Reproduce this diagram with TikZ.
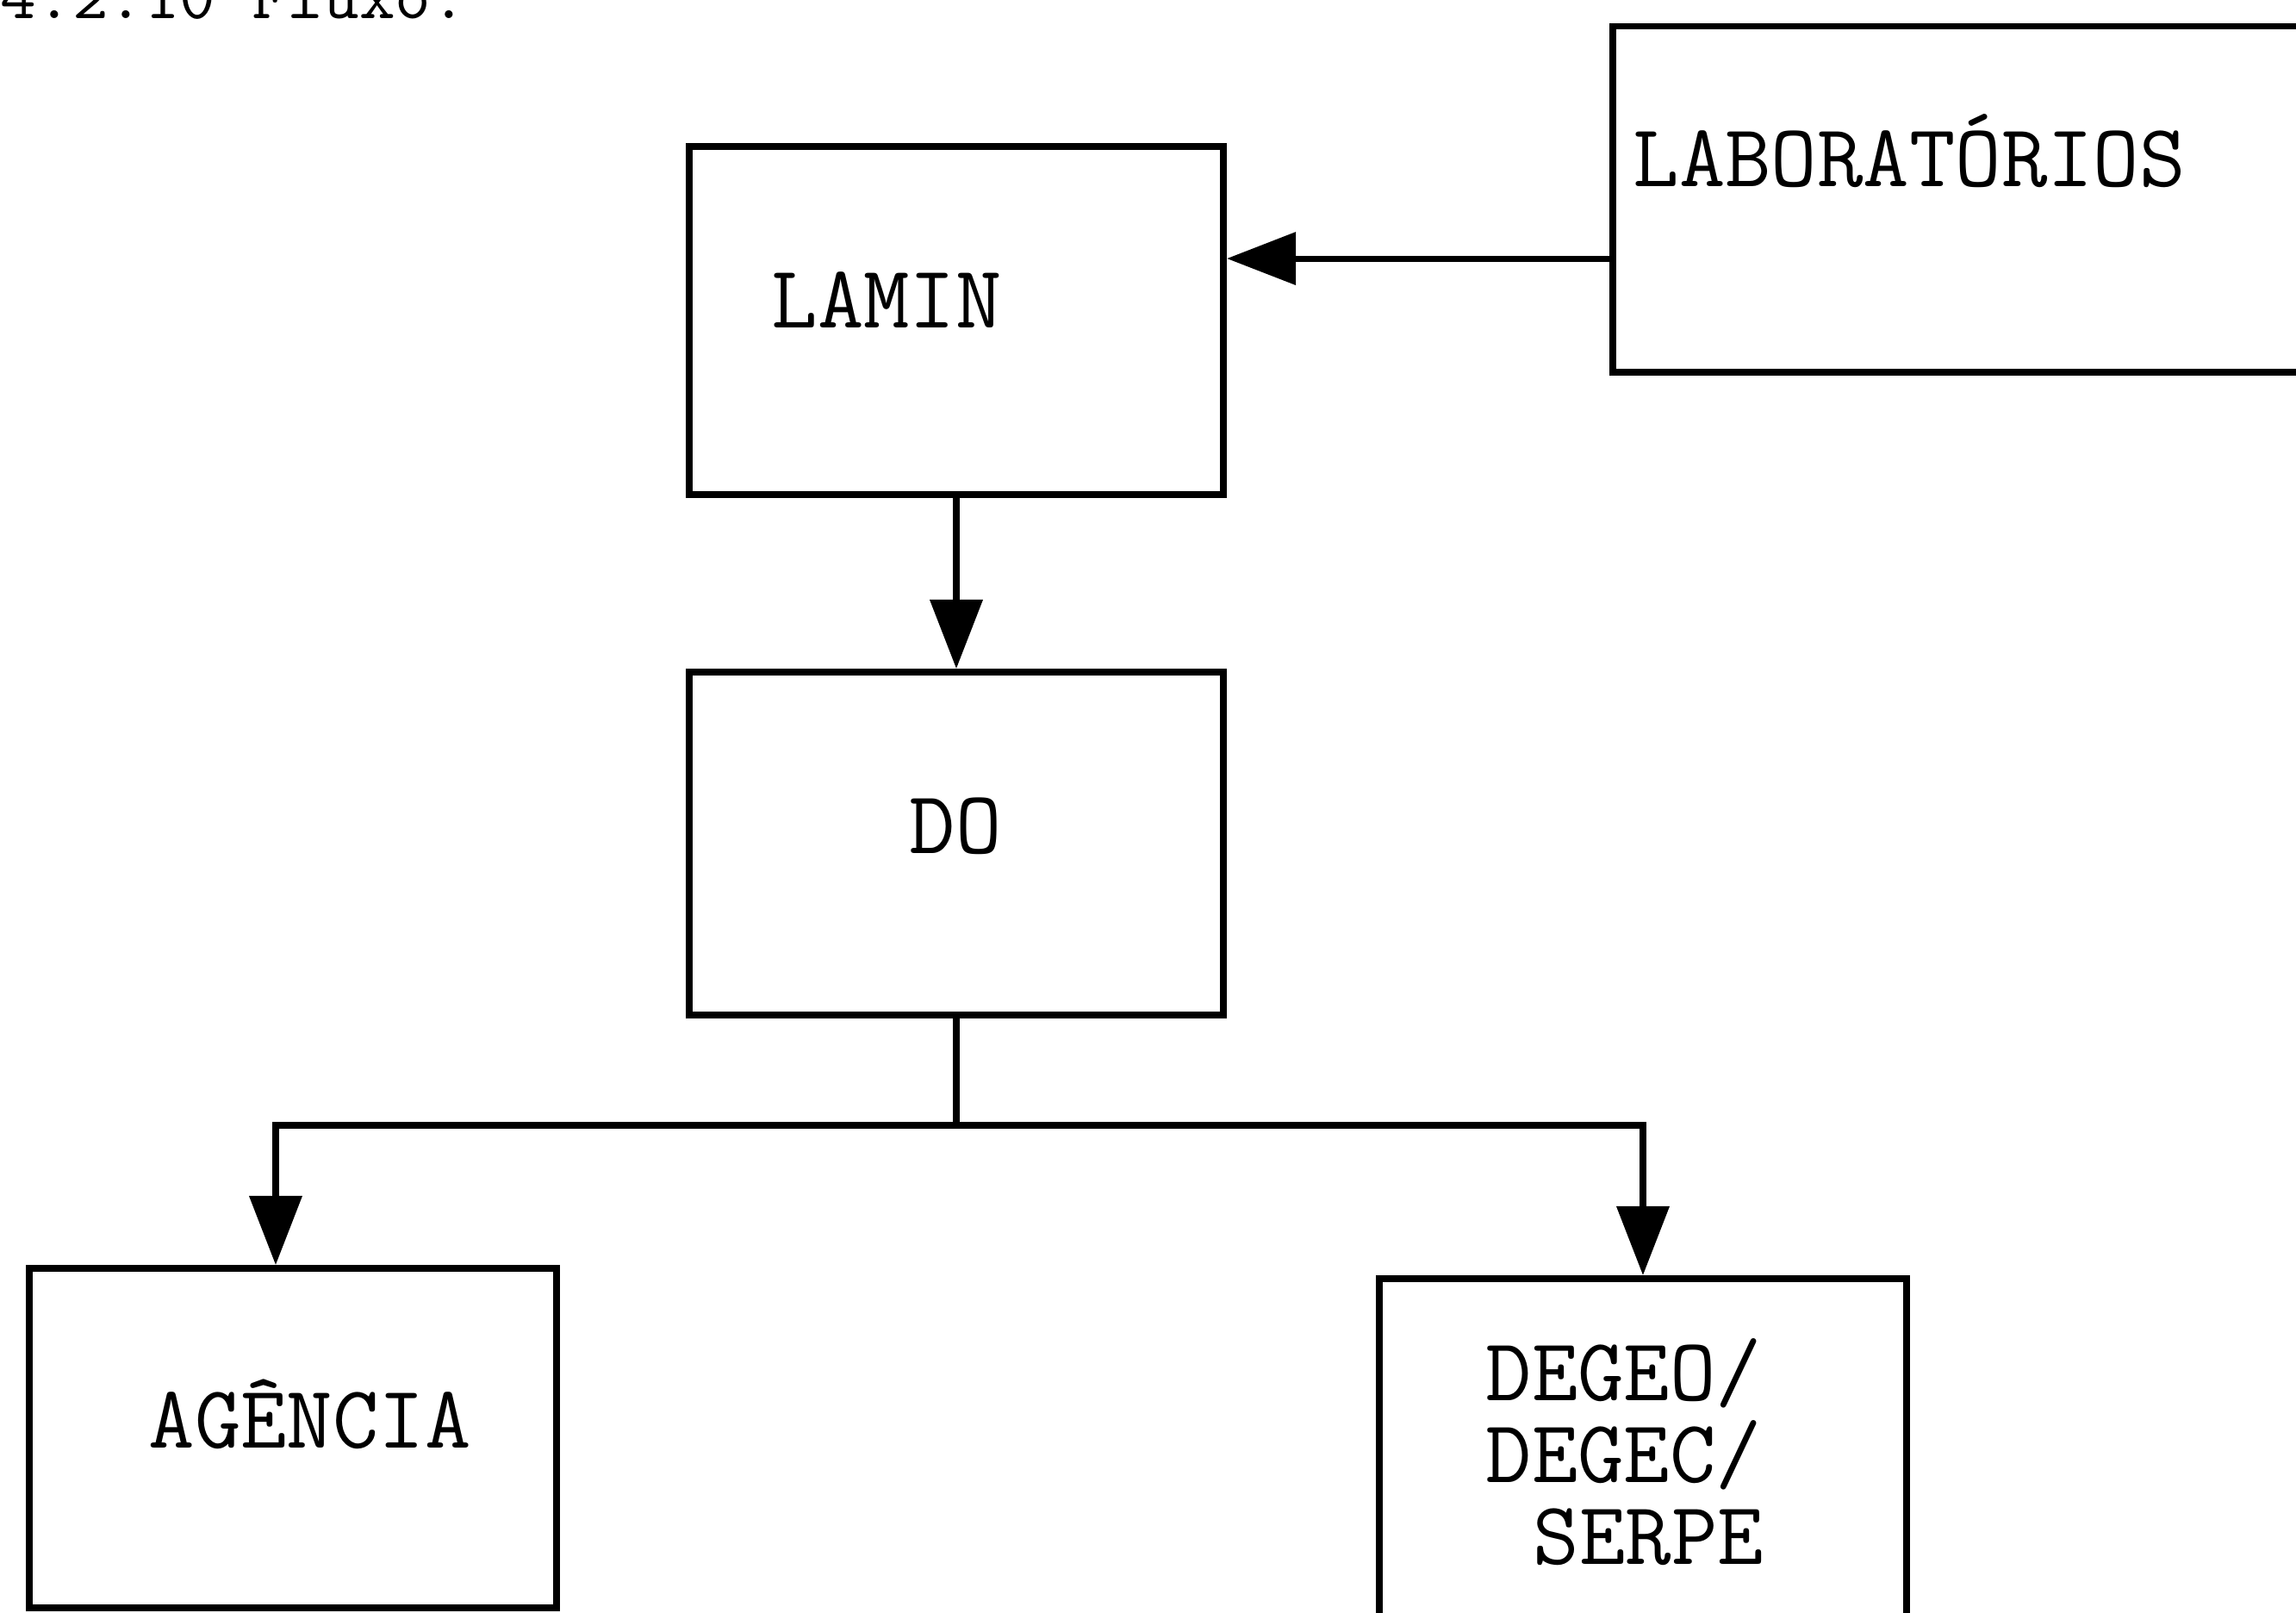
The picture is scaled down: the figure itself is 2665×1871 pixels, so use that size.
\documentclass[tikz,border=0pt]{standalone}
\usepackage{fontspec}
\usetikzlibrary{arrows.meta}
\tikzset{
block/.style={draw,line width=2.2pt,inner sep=0pt},
txt/.style={inner sep=0pt,anchor=base west,align=left,font=\ttfamily\fontsize{29.5}{27}\selectfont},
head/.style={inner sep=0pt,anchor=base west,font=\ttfamily\fontsize{23}{26}\selectfont},
arrow/.style={-{Triangle[length=8mm,width=6mm]},line width=2pt},
line/.style={line width=2pt}
}
\begin{document}
\begin{tikzpicture}[x=0.01cm,y=-0.01cm]
\useasboundingbox (0,0) rectangle (2665,1871);
\fill[white] (0,0) rectangle (2665,1871);

\node[head] (titulo) at (0,21) {4.2.10-Fluxo.};

% caixas
\node[block,minimum width=6.2cm,minimum height=4.04cm] (lamin) at (1110,372) {};
\node[block,minimum width=8.5cm,minimum height=4.01cm] (lab) at (2297,231) {};
\node[block,minimum width=6.2cm,minimum height=3.98cm] (do) at (1110,979) {};
\node[block,minimum width=6.12cm,minimum height=3.94cm] (agencia) at (340,1669) {};
\node[block,minimum width=6.12cm,minimum height=4.6cm] (degeo) at (1907,1714) {};

% textos
\node[txt] (labtxt) at (1895,216) {LABORATÓRIOS};
\node[txt] (lamintxt) at (895,380) {LAMIN};
\node[txt] (dotxt) at (1055,990) {DO};
\node[txt] (agenciatxt) at (172,1680) {AGÊNCIA};
\node[txt] (degeotxt) at (1724,1815) {DEGEO/\\DEGEC/\\\hspace*{0.55cm}SERPE};

% fluxo
\draw[arrow] ([yshift=-0.69cm]lab.west) -- ([yshift=-0.69cm]lab.west -| lamin.east);
\draw[arrow] (lamin.south) -- (lamin.south |- do.north);
\draw[line] (do.south) -- ++(0,124) coordinate (split);
\draw[arrow] (split) -| ([xshift=-0.2cm]agencia.north);
\draw[arrow] (split) -| (degeo.north);
\end{tikzpicture}
\end{document}
